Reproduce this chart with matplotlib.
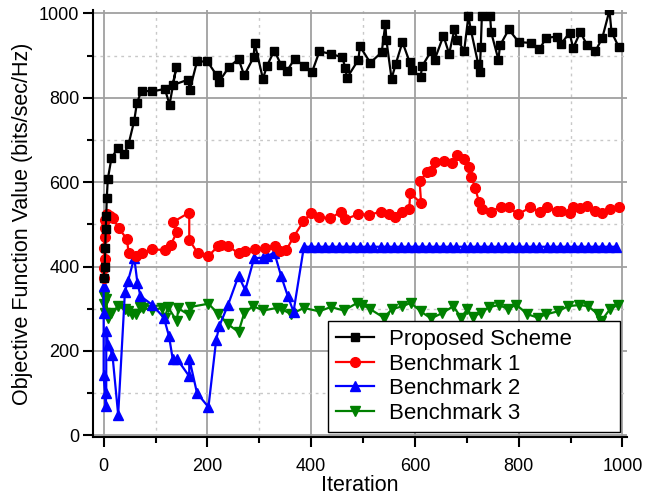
import matplotlib
matplotlib.use("Agg")
import matplotlib.pyplot as plt
from matplotlib.ticker import MultipleLocator

plt.rcParams['font.family'] = ['Liberation Sans', 'DejaVu Sans']

# ---------------- data ----------------
prop_x = [0, 2, 3, 4, 5, 6, 8, 15, 28, 40, 48, 59, 64, 73, 94, 118, 127, 140, 133, 163, 166,
          180, 200, 218, 222, 241, 260, 271, 289, 291, 307, 315, 329, 342, 353, 368, 387, 402,
          416, 438, 460, 466, 469, 491, 494, 514, 536, 543, 545, 555, 563, 576, 590, 594, 611,
          614, 631, 638, 655, 666, 676, 682, 695, 703, 708, 722, 725, 727, 729, 745, 747, 761,
          764, 781, 800, 823, 840, 853, 874, 882, 898, 905, 919, 932, 948, 961, 975, 979, 993]
prop_y = [373, 400, 445, 490, 520, 562, 607, 657, 682, 667, 690, 746, 787, 817, 815, 821, 784,
          872, 830, 843, 819, 886, 886, 853, 837, 872, 892, 853, 896, 930, 845, 876, 912, 878,
          863, 892, 875, 862, 910, 904, 896, 870, 847, 890, 922, 883, 908, 975, 937, 845, 880,
          932, 884, 865, 850, 875, 910, 890, 947, 904, 962, 936, 912, 993, 960, 880, 861, 920,
          993, 993, 955, 890, 924, 962, 932, 930, 915, 942, 945, 928, 954, 918, 956, 924, 911,
          941, 1007, 956, 920]

b1_x = [0, 1, 3, 0, 2, 3, 2, 6, 12, 18, 29, 45, 48, 63, 73, 94, 118, 129, 141, 133, 165, 165,
        182, 202, 221, 226, 240, 260, 273, 292, 311, 331, 340, 352, 366, 385, 400, 415, 437,
        457, 466, 490, 512, 535, 551, 561, 575, 589, 591, 612, 609, 624, 631, 638, 656, 672,
        682, 695, 705, 709, 716, 724, 729, 747, 765, 781, 799, 822, 841, 854, 874, 882, 898,
        905, 919, 932, 948, 961, 977, 993]
b1_y = [374, 397, 417, 445, 469, 492, 510, 524, 520, 516, 491, 465, 433, 425, 433, 441, 439,
        451, 481, 505, 528, 463, 431, 425, 449, 451, 449, 431, 437, 441, 443, 449, 437, 439,
        470, 507, 527, 518, 514, 530, 512, 524, 523, 530, 524, 518, 530, 536, 574, 550, 603,
        623, 627, 648, 651, 645, 665, 655, 635, 613, 586, 552, 536, 530, 542, 540, 524, 540,
        530, 542, 532, 532, 526, 540, 538, 544, 532, 528, 536, 542]

b2_x = [0, 0, 0, 4, 5, 5, 9, 17, 28, 41, 47, 59, 65, 71, 93, 116, 126, 133, 142, 165, 165,
        180, 202, 217, 223, 240, 260, 273, 290, 308, 314, 329, 342, 355, 366, 386, 400, 414,
        427, 440, 454, 467, 480, 494, 507, 520, 534, 547, 560, 574, 587, 600, 614, 627, 640,
        654, 667, 680, 694, 707, 720, 734, 747, 760, 774, 787, 800, 814, 827, 840, 854, 867,
        880, 894, 907, 920, 934, 947, 960, 974, 987]
b2_y = [355, 290, 144, 69, 100, 247, 214, 190, 49, 340, 366, 421, 362, 330, 310, 279, 235,
        182, 180, 140, 182, 100, 67, 227, 259, 310, 378, 344, 420, 421, 424, 433, 378, 330,
        293, 447, 447, 447, 447, 447, 447, 447, 447, 447, 447, 447, 447, 447, 447, 447, 447,
        447, 447, 447, 447, 447, 447, 447, 447, 447, 447, 447, 447, 447, 447, 447, 447, 447,
        447, 447, 447, 447, 447, 447, 447, 447, 447, 447, 447, 447, 447]

b3_x = [0, 1, 3, 5, 8, 15, 28, 41, 47, 54, 63, 70, 76, 94, 112, 118, 124, 141, 144, 165, 166,
        202, 221, 240, 260, 271, 288, 308, 334, 344, 361, 386, 415, 438, 463, 489, 498, 514,
        540, 556, 576, 592, 611, 631, 653, 674, 689, 701, 711, 727, 743, 763, 779, 795, 817,
        837, 853, 876, 895, 917, 934, 953, 959, 976, 992]
b3_y = [330, 312, 290, 322, 279, 290, 306, 299, 294, 287, 287, 304, 302, 296, 302, 279, 304,
        271, 301, 285, 304, 312, 288, 263, 245, 290, 306, 296, 302, 299, 287, 302, 294, 304,
        296, 314, 310, 299, 279, 299, 306, 314, 294, 277, 290, 306, 279, 299, 281, 290, 304,
        309, 299, 310, 287, 279, 287, 294, 306, 309, 306, 287, 271, 299, 310]

series_labels = ['Proposed Scheme', 'Benchmark 1', 'Benchmark 2', 'Benchmark 3']
x_label = 'Iteration'
y_label = 'Objective Function Value (bits/sec/Hz)'

# ---------------- plot ----------------
fig = plt.figure(figsize=(6.55, 4.95), dpi=100)
ax = fig.add_axes([0.1424, 0.1162, 0.8150, 0.8636])

ax.plot(prop_x, prop_y, color='black', marker='s', ms=6.3, lw=1.6, label=series_labels[0], zorder=5)
ax.plot(b1_x, b1_y, color='#ff0000', marker='o', ms=7, lw=1.6, label=series_labels[1], zorder=4)
ax.plot(b2_x, b2_y, color='#0000ff', marker='^', ms=7.5, lw=1.6, label=series_labels[2], zorder=3)
ax.plot(b3_x, b3_y, color='#008000', marker='v', ms=7.5, lw=1.6, label=series_labels[3], zorder=2)

ax.set_xlim(-20, 1009)
ax.set_ylim(-5, 1008)
ax.xaxis.set_major_locator(MultipleLocator(200))
ax.xaxis.set_minor_locator(MultipleLocator(100))
ax.yaxis.set_major_locator(MultipleLocator(200))
ax.yaxis.set_minor_locator(MultipleLocator(100))

ax.grid(which='major', color='#a0a0a0', lw=1.3, ls='-', zorder=0)
ax.grid(which='minor', color='#c8c8c8', lw=1.0, ls=(0, (2, 3)), zorder=0)
ax.set_axisbelow(True)

for s in ['top', 'right']:
    ax.spines[s].set_visible(False)
for s in ['left', 'bottom']:
    ax.spines[s].set_linewidth(1.5)
    ax.spines[s].set_color('black')

ax.tick_params(which='major', direction='out', length=7, width=1.5, labelsize=13, pad=3)
ax.tick_params(which='minor', direction='out', length=4, width=1.5)
ax.tick_params(axis='x', which='major', pad=8)

ax.set_xlabel(x_label, fontsize=15.5, labelpad=0)
ax.set_ylabel(y_label, fontsize=15.5, labelpad=4)

leg = ax.legend(loc='lower left', bbox_to_anchor=(0.4397, 0.0129, 0.547, 0.2), mode='expand',
                fontsize=16, frameon=True, fancybox=False,
                edgecolor='black', framealpha=1, borderaxespad=0,
                labelspacing=0.16, handlelength=1.7, borderpad=0.37, handletextpad=0.68)
leg.get_frame().set_linewidth(1.0)

fig.savefig('out.png', dpi=100)
